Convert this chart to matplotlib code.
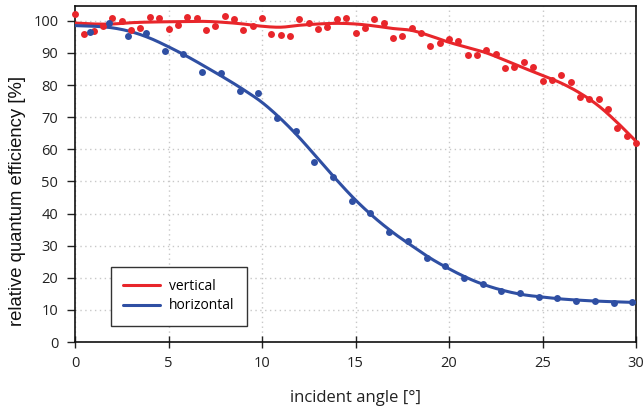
import matplotlib
matplotlib.use("Agg")
import matplotlib.pyplot as plt
import numpy as np

# vertical polarisation: measured points (every 0.5 deg)
vert_angle = [0.0, 0.5, 1.0, 1.5, 2.0, 2.5, 3.0, 3.5, 4.0, 4.5, 5.0, 5.5, 6.0, 6.5, 7.0, 7.5,
              8.0, 8.5, 9.0, 9.5, 10.0, 10.5, 11.0, 11.5, 12.0, 12.5, 13.0, 13.5, 14.0, 14.5,
              15.0, 15.5, 16.0, 16.5, 17.0, 17.5, 18.0, 18.5, 19.0, 19.5, 20.0, 20.5, 21.0,
              21.5, 22.0, 22.5, 23.0, 23.5, 24.0, 24.5, 25.0, 25.5, 26.0, 26.5, 27.0, 27.5,
              28.0, 28.5, 29.0, 29.5, 30.0]
vert_vals = [102.0, 96.0, 96.7, 98.4, 101.0, 99.8, 97.1, 97.9, 101.2, 101.0, 97.5, 98.8,
             101.2, 101.0, 97.1, 98.4, 101.4, 100.6, 97.1, 98.3, 101.0, 95.9, 95.7, 95.2,
             100.4, 99.4, 97.5, 98.1, 100.5, 100.8, 96.1, 97.9, 100.5, 99.4, 94.5, 95.4,
             97.9, 96.3, 92.1, 93.0, 94.2, 93.6, 89.2, 89.4, 91.0, 89.7, 85.3, 85.5, 87.3,
             85.7, 81.2, 81.6, 83.2, 80.8, 76.2, 75.8, 75.6, 72.5, 66.5, 64.2, 62.1]

# fitted curves (every 1 deg)
fit_angle = list(range(0, 31))
vert_fit = [99.3, 99.0, 99.0, 99.4, 99.6, 99.7, 99.8, 99.8, 99.5, 99.0, 98.3, 98.0, 98.6,
            99.0, 99.2, 99.0, 98.4, 97.6, 97.0, 95.3, 93.3, 91.7, 90.0, 87.7, 85.3, 83.0,
            80.6, 77.5, 73.5, 68.3, 62.5]
horiz_fit = [98.5, 98.3, 97.8, 96.6, 94.6, 91.9, 88.9, 85.6, 82.2, 78.6, 74.6, 69.5, 63.6,
             57.0, 50.4, 44.2, 38.8, 34.1, 30.0, 26.1, 22.8, 19.9, 17.6, 15.9, 14.7, 14.0,
             13.4, 13.0, 12.7, 12.5, 12.3]

# horizontal polarisation: measured points
horiz_angle = [0.8, 1.8, 2.85, 3.8, 4.8, 5.8, 6.8, 7.8, 8.8, 9.8, 10.8, 11.8, 12.8, 13.8,
               14.8, 15.8, 16.8, 17.8, 18.8, 19.8, 20.8, 21.8, 22.8, 23.8, 24.8, 25.8,
               26.8, 27.8, 28.8, 29.8]
horiz_vals = [96.5, 99.2, 95.2, 96.3, 90.7, 89.8, 84.1, 83.6, 78.0, 77.4, 69.6, 65.6,
              56.1, 51.3, 43.8, 40.2, 34.2, 31.5, 26.3, 23.7, 19.8, 18.2, 15.8, 15.1,
              13.9, 13.8, 12.7, 12.8, 12.0, 12.4]

x_ticks = [0, 5, 10, 15, 20, 25, 30]
y_ticks = [0, 10, 20, 30, 40, 50, 60, 70, 80, 90, 100]

RED = "#e8262b"
BLUE = "#2f4fa3"


def catmull_rom(xs, ys, n=12):
    """Smooth curve through the given knots (Catmull-Rom spline)."""
    xs = np.asarray(xs, float)
    ys = np.asarray(ys, float)
    px = np.concatenate([[2 * xs[0] - xs[1]], xs, [2 * xs[-1] - xs[-2]]])
    py = np.concatenate([[2 * ys[0] - ys[1]], ys, [2 * ys[-1] - ys[-2]]])
    outx, outy = [], []
    t = np.linspace(0, 1, n, endpoint=False)
    for i in range(1, len(px) - 2):
        for P, out in ((px, outx), (py, outy)):
            p0, p1, p2, p3 = P[i - 1], P[i], P[i + 1], P[i + 2]
            out.extend(0.5 * ((2 * p1) + (-p0 + p2) * t + (2 * p0 - 5 * p1 + 4 * p2 - p3) * t ** 2
                              + (-p0 + 3 * p1 - 3 * p2 + p3) * t ** 3))
    outx.append(xs[-1])
    outy.append(ys[-1])
    return np.array(outx), np.array(outy)


plt.rcParams['font.family'] = ['Open Sans', 'DejaVu Sans']

fig = plt.figure(figsize=(6.44, 4.13), dpi=100)
ax = fig.add_axes([75 / 644, 1 - 342 / 413, (636 - 75) / 644, (342 - 6) / 413])

vx, vy = catmull_rom(fit_angle, vert_fit)
hx, hy = catmull_rom(fit_angle, horiz_fit)
ax.plot(vx, vy, color=RED, lw=2.2, label="vertical", zorder=3, solid_capstyle='round')
ax.plot(hx, hy, color=BLUE, lw=2.2, label="horizontal", zorder=3, solid_capstyle='round')
ax.plot(vert_angle, vert_vals, 'o', color=RED, ms=5, mew=0, zorder=4, clip_on=False)
ax.plot(horiz_angle, horiz_vals, 'o', color=BLUE, ms=5, mew=0, zorder=4, clip_on=False)

ax.set_xlim(0, 30)
ax.set_ylim(0, 104.6)
ax.set_xticks(x_ticks)
ax.set_yticks(y_ticks)
ax.grid(True, color="#c8c8c8", linestyle=(0, (1, 2.5)), lw=1.0)
ax.tick_params(axis='y', direction='out', length=6, width=1, labelsize=10.5,
               colors='#222222', pad=6)
ax.tick_params(axis='x', direction='inout', length=8, width=1, labelsize=10.5,
               colors='#222222', pad=6)
for s in ax.spines.values():
    s.set_color('#111111')
    s.set_linewidth(1.2)

ax.set_xlabel("incident angle [°]", fontsize=12, color='#222222', labelpad=14)
ax.set_ylabel("relative quantum efficiency [%]", fontsize=13.3, color='#111111',
              family=['Liberation Sans', 'DejaVu Sans'])
ax.yaxis.set_label_coords(-0.087, 0.42)

leg = ax.legend(loc='lower left', bbox_to_anchor=(0.064, 0.048), borderaxespad=0,
                fontsize=10, frameon=True, fancybox=False, edgecolor='#333333',
                framealpha=1, handlelength=2.6, borderpad=0.9, labelspacing=0.3,
                handletextpad=0.7)
leg.get_frame().set_linewidth(1.0)

fig.savefig("out.png", dpi=100)
